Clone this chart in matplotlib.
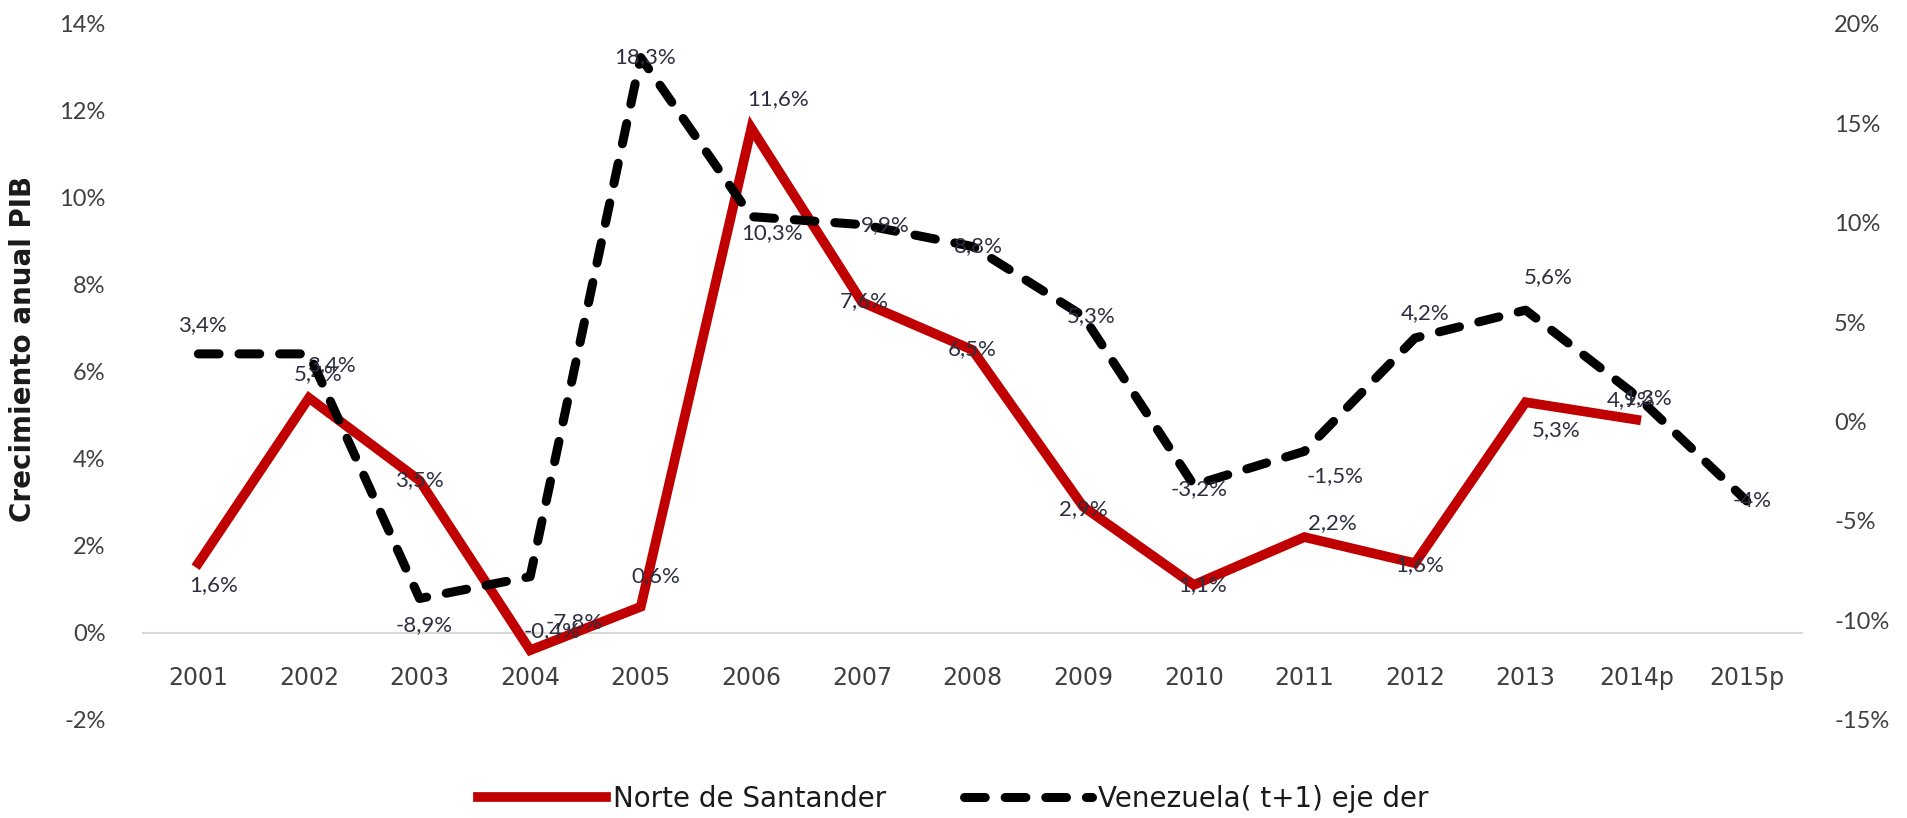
import numpy as np
import matplotlib.pyplot as plt
from matplotlib.ticker import FuncFormatter

###
### Data
###
years      = ['2001','2002','2003','2004','2005','2006','2007','2008',
              '2009','2010','2011','2012','2013','2014p','2015p']
norte      = [1.6, 5.4, 3.5, -0.4, 0.6, 11.6, 7.6, 6.5,
              2.9, 1.1, 2.2, 1.6, 5.3, 4.9, np.nan]
venezuela  = [3.4, 3.4, -8.9, -7.8, 18.3, 10.3, 9.9, 8.8,
              5.3, -3.2, -1.5, 4.2, 5.6, 1.3, -4.0]
name_norte = 'Norte de Santander'
name_ven   = 'Venezuela( t+1) eje der'

# label offsets (points) relative to each data point
off_norte = [(11,-16),(7,17),(0,0),(16,14),(11,22),(19,21),(2,1),(0,1),
             (0,-2),(6,0),(20,10),(3,-1),(22,-20),(-4,14),(0,0)]
off_ven   = [(3,21),(16,-8),(3,-19),(32,-33),(3,0),(15,-12),(17,0),(4,0),
             (6,0),(4,-3),(22,-18),(7,18),(16,24),(8,-2),(4,0)]

red   = '#C00000'
txtc  = '#2b2f3f'
tickc = '#404040'
lblfont = ['Lato','DejaVu Sans']

def pct(v):
    return f"{v:g}".replace('.', ',') + '%'

fig = plt.figure(figsize=(19.07, 8.18), dpi=100)
ax = fig.add_axes([0.075, 0.120, 0.870, 0.851])
ax2 = ax.twinx()

x = np.arange(len(years))

ax.plot(x, norte, color=red, lw=7, solid_joinstyle='miter', zorder=3,
        label=name_norte)
ax2.plot(x, venezuela, color='black', lw=6.5, dashes=(2.3, 2.2),
         dash_capstyle='round', zorder=3, label=name_ven)

for i, v in enumerate(norte):
    if np.isnan(v):
        continue
    ax.annotate(pct(v), (x[i], v), xytext=off_norte[i], textcoords='offset points',
                ha='center', va='center', fontsize=16, color=txtc, family=lblfont)
for i, v in enumerate(venezuela):
    ax2.annotate(pct(v), (x[i], v), xytext=off_ven[i], textcoords='offset points',
                 ha='center', va='center', fontsize=16, color=txtc, family=lblfont)

###
### Axes
###
ax.set_xlim(-0.5, len(years) - 0.5)
ax.set_ylim(-2, 14)
ax2.set_ylim(-15, 20)
ax.set_yticks(np.arange(-2, 15, 2))
ax2.set_yticks(np.arange(-15, 21, 5))
fmt = FuncFormatter(lambda v, p: f"{v:.0f}%")
ax.yaxis.set_major_formatter(fmt)
ax2.yaxis.set_major_formatter(fmt)
ax.set_xticks(x)
ax.set_xticklabels(years)

for a in (ax, ax2):
    for s in a.spines.values():
        s.set_visible(False)
    a.tick_params(length=0, labelsize=17, labelcolor=tickc)
    for t in a.get_xticklabels() + a.get_yticklabels():
        t.set_family(lblfont)
ax.spines['bottom'].set_visible(True)
ax.spines['bottom'].set_position(('data', 0))
ax.spines['bottom'].set_color('#d9d9d9')
ax.spines['bottom'].set_linewidth(1.5)
ax.tick_params(axis='x', pad=24)
ax.tick_params(axis='y', pad=27)
ax2.tick_params(axis='y', pad=23)

fig.text(0.012, 1 - 349/818, 'Crecimiento anual PIB', rotation=90,
         ha='center', va='center', fontsize=20, fontweight='bold',
         family=['Liberation Sans Narrow','DejaVu Sans'], color='#1a1a1a')

h1, l1 = ax.get_legend_handles_labels()
h2, l2 = ax2.get_legend_handles_labels()
leg = fig.legend(h1 + h2, l1 + l2, loc='center', bbox_to_anchor=(0.5, 1 - 799/818),
                 ncol=2, frameon=False, handlelength=4.6, columnspacing=2.8,
                 handletextpad=0.25,
                 prop={'family': ['Liberation Sans Narrow','DejaVu Sans'], 'size': 20})
for t in leg.get_texts():
    t.set_color('#1a1a1a')

fig.savefig('out.png', dpi=100)
